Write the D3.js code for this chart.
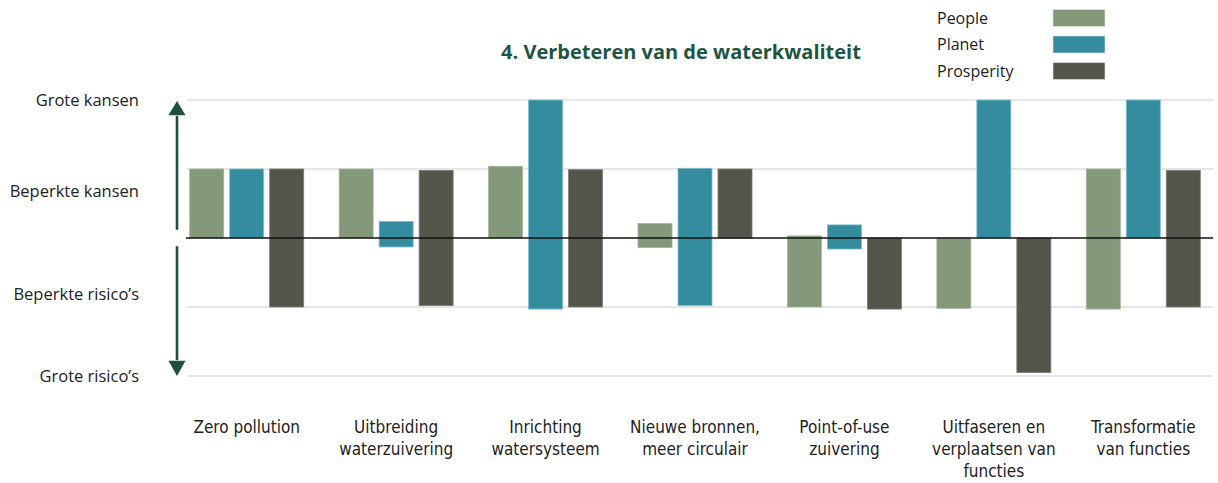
<!DOCTYPE html>
<html>
<head>
<meta charset="utf-8">
<script src="https://cdn.jsdelivr.net/npm/d3@7"></script>
<style>
  body { margin: 0; background: #fff; }
  .ylabel { font-family: "Open Sans", sans-serif; font-size: 16.5px; fill: #222; }
  .legend-label { font-family: "Open Sans", sans-serif; font-size: 16px; fill: #222; }
  .cat-label { font-family: "Liberation Sans Narrow", "DejaVu Sans Condensed", sans-serif; font-size: 17px; fill: #222; }
  .title { font-family: "Open Sans", sans-serif; font-weight: 700; font-size: 20px; fill: #1e5544; }
</style>
</head>
<body>
<div id="chart"></div>
<script>

// Categories (one line per array entry)
const categoryLines = [
  ["Zero pollution"],
  ["Uitbreiding", "waterzuivering"],
  ["Inrichting", "watersysteem"],
  ["Nieuwe bronnen,", "meer circulair"],
  ["Point-of-use", "zuivering"],
  ["Uitfaseren en", "verplaatsen van", "functies"],
  ["Transformatie", "van functies"]
];

const seriesNames = ["People", "Planet", "Prosperity"];

// Each bar is a range [low, high] on the -2..2 scale
const peopleRanges = [[0, 1], [0, 1], [0, 1.04], [-0.14, 0.21], [-1, 0.03], [-1.02, 0], [-1.03, 1]];
const planetRanges = [[0, 1], [-0.13, 0.24], [-1.03, 2], [-0.98, 1.01], [-0.16, 0.19], [0, 2], [0, 2]];
const prosperityRanges = [[-1, 1], [-0.98, 0.98], [-1, 0.99], [0, 1], [-1.03, 0], [-1.95, 0], [-1, 0.98]];

// Y axis texts and where they sit (in scale units)
const yTickLabels = ["Grote kansen", "Beperkte kansen", "Beperkte risico\u2019s", "Grote risico\u2019s"];
const yLabelValues = [2, 0.68, -0.81, -2];
const gridValues = [2, 1, -1, -2];

const titleText = "4. Verbeteren van de waterkwaliteit";

function chart(width, height, selector) {

  // Colours
  let colors = { People: "#83997a", Planet: "#358c9e", Prosperity: "#54564c" };
  let strokes = { People: "#a3b59b", Planet: "#7cc0d0", Prosperity: "#7a7c72" };
  let arrowColor = "#1f4f40";

  ///////////////////////////////////////////
  //// Dimensions, scales and generators ////
  ///////////////////////////////////////////

  let xScale = d3.scaleBand()
    .domain(d3.range(categoryLines.length))
    .range([172, 1218]);

  let innerScale = d3.scaleBand()
    .domain(seriesNames)
    .range([-57, 57])
    .paddingInner(0.15);

  let yScale = d3.scaleLinear()
    .domain([-2, 2])
    .range([376, 100]);

  let rangesBySeries = { People: peopleRanges, Planet: planetRanges, Prosperity: prosperityRanges };

  //////////////////////////
  /// Building the chart ///
  //////////////////////////

  let svg = d3.select(selector)
    .append("svg")
    .attr("width", width)
    .attr("height", height);

  // Grid lines
  svg.append("g")
    .selectAll("line")
    .data(gridValues)
    .join("line")
    .attr("x1", 187)
    .attr("x2", 1213)
    .attr("y1", d => yScale(d))
    .attr("y2", d => yScale(d))
    .attr("stroke", "#dedede")
    .attr("stroke-width", 1.5);

  // Bars
  seriesNames.forEach(name => {
    svg.append("g")
      .attr("class", "series")
      .selectAll("rect")
      .data(rangesBySeries[name])
      .join("rect")
      .attr("x", (d, i) => xScale(i) + xScale.bandwidth() / 2 + innerScale(name))
      .attr("width", innerScale.bandwidth())
      .attr("y", d => yScale(d[1]))
      .attr("height", d => yScale(d[0]) - yScale(d[1]))
      .attr("fill", colors[name])
      .attr("stroke", strokes[name])
      .attr("stroke-width", 0.8);
  });

  // Zero line
  svg.append("line")
    .attr("x1", 186)
    .attr("x2", 1213)
    .attr("y1", yScale(0))
    .attr("y2", yScale(0))
    .attr("stroke", "#111")
    .attr("stroke-width", 1.6);

  // Arrows on the left
  let ax = 177;
  svg.append("line")
    .attr("x1", ax).attr("x2", ax)
    .attr("y1", yScale(1.77)).attr("y2", yScale(0.12))
    .attr("stroke", arrowColor).attr("stroke-width", 2.6);
  svg.append("line")
    .attr("x1", ax).attr("x2", ax)
    .attr("y1", yScale(-0.12)).attr("y2", yScale(-1.77))
    .attr("stroke", arrowColor).attr("stroke-width", 2.6);
  svg.append("path")
    .attr("d", `M${ax},${yScale(2) + 1} L${ax + 8.5},${yScale(1.78)} L${ax - 8.5},${yScale(1.78)} Z`)
    .attr("fill", arrowColor);
  svg.append("path")
    .attr("d", `M${ax},${yScale(-2)} L${ax + 8.5},${yScale(-1.78)} L${ax - 8.5},${yScale(-1.78)} Z`)
    .attr("fill", arrowColor);

  // Y labels
  svg.append("g")
    .selectAll("text")
    .data(yTickLabels)
    .join("text")
    .attr("class", "ylabel")
    .attr("x", 139)
    .attr("y", (d, i) => yScale(yLabelValues[i]))
    .attr("dy", "0.35em")
    .attr("text-anchor", "end")
    .text(d => d);

  // Category labels
  let cats = svg.append("g")
    .selectAll("text")
    .data(categoryLines)
    .join("text")
    .attr("class", "cat-label")
    .attr("text-anchor", "middle")
    .attr("x", (d, i) => xScale(i) + xScale.bandwidth() / 2)
    .attr("y", 433);

  cats.selectAll("tspan")
    .data(d => d)
    .join("tspan")
    .attr("x", function () { return d3.select(this.parentNode).attr("x"); })
    .attr("dy", (d, i) => i === 0 ? 0 : 22)
    .text(d => d);

  // Title
  svg.append("text")
    .attr("class", "title")
    .attr("x", 681)
    .attr("y", 52)
    .attr("dy", "0.35em")
    .attr("text-anchor", "middle")
    .text(titleText);

  // Legend
  let legend = svg.append("g")
    .selectAll("g")
    .data(seriesNames)
    .join("g")
    .attr("transform", (d, i) => "translate(0," + (18 + i * 26.5) + ")");

  legend.append("text")
    .attr("class", "legend-label")
    .attr("x", 937)
    .attr("dy", "0.35em")
    .text(d => d);

  legend.append("rect")
    .attr("x", 1053)
    .attr("y", -8.5)
    .attr("width", 52)
    .attr("height", 17)
    .attr("fill", d => colors[d])
    .attr("stroke", "#e8e8e8")
    .attr("stroke-width", 0.6);
}

chart(1218, 483, "#chart");
</script>
</body>
</html>
